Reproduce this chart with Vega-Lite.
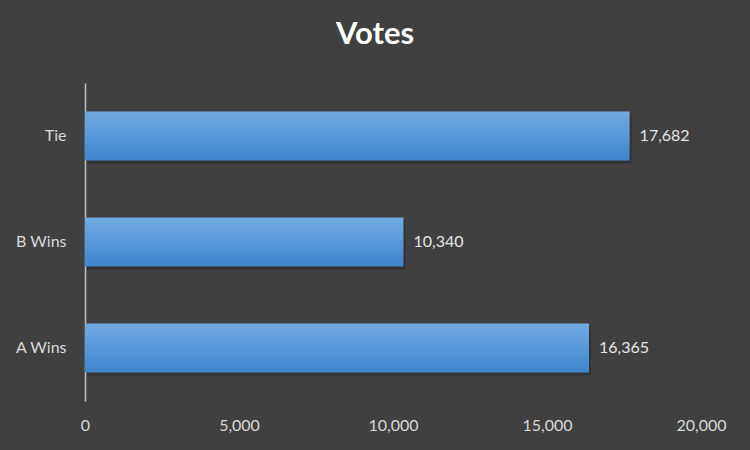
{
  "$schema": "https://vega.github.io/schema/vega-lite/v6.json",
  "autosize": "none",
  "width": 616,
  "height": 318,
  "padding": {"left": 85, "top": 83, "right": 49, "bottom": 49},
  "background": "#404040",
  "title": {
    "text": "Votes",
    "font": "Lato",
    "fontSize": 31,
    "fontWeight": "bold",
    "color": "#ffffff",
    "anchor": "middle",
    "dx": -18,
    "offset": 32
  },
  "config": {
    "view": {"stroke": null},
    "axis": {"labelFont": "Lato", "labelFontSize": 16, "labelColor": "#d9d9d9"}
  },
  "data": {
    "values": [
      {"outcome": "Tie", "votes": 17682},
      {"outcome": "B Wins", "votes": 10340},
      {"outcome": "A Wins", "votes": 16365}
    ]
  },
  "encoding": {
    "y": {
      "field": "outcome",
      "type": "nominal",
      "sort": null,
      "title": null,
      "scale": {"paddingInner": 0.54, "paddingOuter": 0.27},
      "axis": {"domainColor": "#bfbfbf", "domainWidth": 1.5, "ticks": false, "labelPadding": 19}
    },
    "x": {
      "field": "votes",
      "type": "quantitative",
      "title": null,
      "scale": {"domain": [0, 20000], "nice": false},
      "axis": {"values": [0, 5000, 10000, 15000, 20000], "format": ",.0f", "labelFlush": false, "domain": false, "ticks": false, "grid": false, "labelPadding": 16}
    }
  },
  "layer": [
    {
      "mark": {"type": "bar", "color": "#1a1a1a", "opacity": 0.35, "yOffset": 3, "xOffset": 2}
    },
    {
      "mark": {
        "type": "bar",
        "fill": {
          "gradient": "linear",
          "x1": 0, "y1": 0, "x2": 0, "y2": 1,
          "stops": [
            {"offset": 0, "color": "#72a9e0"},
            {"offset": 0.5, "color": "#5799dc"},
            {"offset": 1, "color": "#3f85ca"}
          ]
        }
      }
    },
    {
      "mark": {"type": "text", "align": "left", "dx": 10, "font": "Lato", "fontSize": 16, "color": "#e6e6e6"},
      "encoding": {"text": {"field": "votes", "type": "quantitative", "format": ",.0f"}}
    }
  ]
}
